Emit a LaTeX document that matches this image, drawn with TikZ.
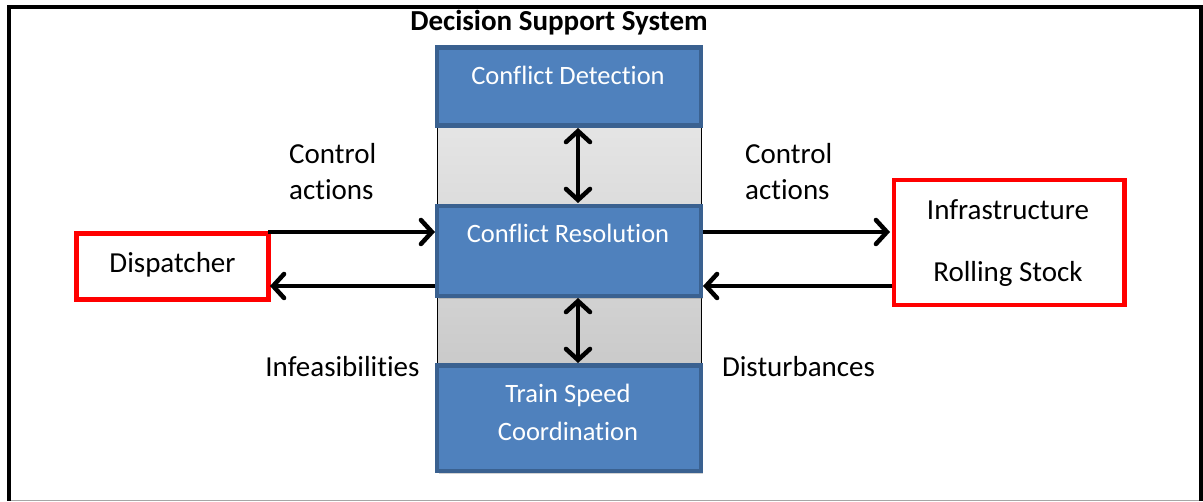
\documentclass[tikz,border=0pt]{standalone}
\usepackage{fontspec}
\setmainfont{Carlito}[Ligatures={NoCommon}]
\usetikzlibrary{arrows.meta,shadows}
\definecolor{boxblue}{HTML}{4F81BD}
\definecolor{boxedge}{HTML}{3A6190}
\definecolor{frameline}{HTML}{000000}
\tikzset{
  module/.style={draw=boxedge, line width=4.5pt, fill=boxblue, outer sep=0pt,
    drop shadow={shadow xshift=2pt, shadow yshift=-3pt, opacity=0.35}},
  actor/.style={draw=red, line width=4.5pt, fill=white, outer sep=0pt},
  lbl/.style={anchor=base, inner sep=0pt, font=\fontsize{29}{34}\selectfont},
  lbll/.style={anchor=base west, inner sep=0pt, font=\fontsize{29}{34}\selectfont},
  wlbl/.style={anchor=base, inner sep=0pt, text=white, font=\fontsize{26.5}{30}\selectfont},
  flow/.style={line width=4.5pt, -{Straight Barb[length=11pt, width=24pt, line width=4.5pt, line cap=round]}},
  bothflow/.style={line width=4.5pt, {Straight Barb[length=11pt, width=24pt, line width=4.5pt, line cap=round]}-{Straight Barb[length=11pt, width=24pt, line width=4.5pt, line cap=round]}},
}
\begin{document}
\begin{tikzpicture}[x=1pt, y=-1pt]
\useasboundingbox (0,0) rectangle (1203,502);
\fill[white] (0,0) rectangle (1203,502);

% outer frame
\draw[gray!70, line width=1pt] (9,500.5) -- (1201,500.5);
\draw[frameline, line width=4pt] (9,501) -- (9,7) -- (1201,7) -- (1201,501);

% title
\node[lbl, font=\bfseries\fontsize{29}{34}\selectfont] (title) at (559,31) {Decision Support System};

% shaded column behind the modules
\shade[top color=black!10, bottom color=black!21] (437,120) rectangle (701,370);
\draw[black, line width=1pt] (437,120) -- (437,370) (701,120) -- (701,370);

% modules
\node[module, minimum width=264pt, minimum height=78pt, anchor=north west] (cd) at (437,47.5) {};
\node[module, minimum width=264pt, minimum height=90pt, anchor=north west] (cr) at (437,206) {};
\node[module, minimum width=264pt, minimum height=105.5pt, anchor=north west] (ts) at (437,365.5) {};

\node[wlbl] (cdt) at (568,85) {Conflict Detection};
\node[wlbl] (crt) at (568,243) {Conflict Resolution};
\node[wlbl] (ts1) at (568,403) {Train Speed};
\node[wlbl] (ts2) at (568,441) {Coordination};

% actors
\node[actor, minimum width=192pt, minimum height=66pt, anchor=north west] (disp) at (76.5,233.5) {};
\node[lbl] (dispt) at (172.5,273) {Dispatcher};
\node[actor, minimum width=230.5pt, minimum height=125pt, anchor=north west] (infra) at (894,180) {};
\node[lbl] (inft) at (1008,220) {Infrastructure};
\node[lbl] (rst) at (1008,282) {Rolling Stock};

% connection points
\coordinate (dA) at (268,232);
\coordinate (dB) at (270,286);
\coordinate (crLa) at (435,232);
\coordinate (crLb) at (435,286);
\coordinate (crRa) at (703,232);
\coordinate (crRb) at (703,286);
\coordinate (iA) at (890,232);
\coordinate (iB) at (892,286);
\coordinate (cdB) at (578,128);
\coordinate (crT) at (578,203);
\coordinate (crB) at (578,298);
\coordinate (tsT) at (578,363);

% connectors
\draw[flow] (dA) -- (crLa);
\draw[flow] (crLb) -- (dB);
\draw[flow] (crRa) -- (iA);
\draw[flow] (iB) -- (crRb);
\draw[bothflow] (cdB) -- (crT);
\draw[bothflow] (crB) -- (tsT);

% connector labels
\node[lbll] (ca1) at (289,164) {Control};
\node[lbll] (ca2) at (289,200) {actions};
\node[lbll] (cb1) at (745,164) {Control};
\node[lbll] (cb2) at (745,200) {actions};
\node[lbl] (inf) at (342.5,377) {Infeasibilities};
\node[lbl] (dist) at (798.5,377) {Disturbances};
\end{tikzpicture}
\end{document}
